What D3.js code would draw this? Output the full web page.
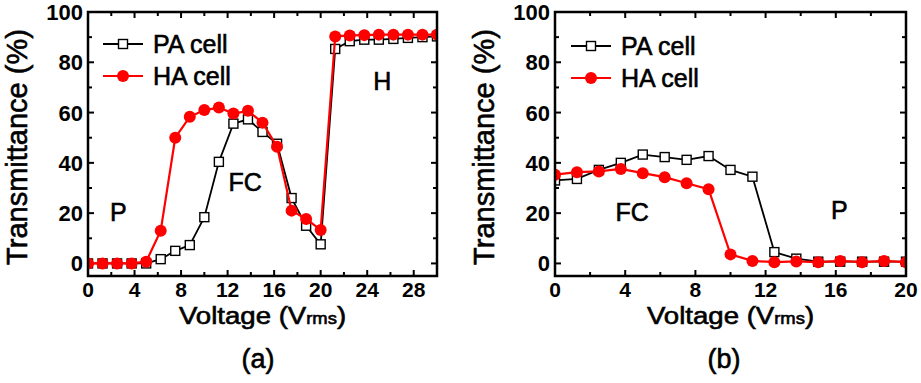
<!DOCTYPE html>
<html>
<head>
<meta charset="utf-8">
<script src="https://cdn.jsdelivr.net/npm/d3@7"></script>
<style>
  body { margin: 0; background: #fff; }
  text { font-family: "Liberation Sans", Arial, sans-serif; }
  .heavy { stroke: #000; stroke-width: 0.6px; }
</style>
</head>
<body>
<div id="chart"></div>
<script>
// voltage steps (Vrms)
const voltA = [0, 1.25, 2.5, 3.75, 5, 6.25, 7.5, 8.75, 10, 11.25, 12.5, 13.75, 15, 16.25, 17.5, 18.75, 20, 21.25, 22.5, 23.75, 25, 26.25, 27.5, 28.75, 30];
const paA = [0, 0, 0, 0, 0, 1.7, 5, 7.3, 18.4, 40.4, 55.6, 57.3, 52.3, 47.6, 26, 15, 7.6, 85.3, 88.4, 89, 89, 89.3, 89.7, 90, 90.3];
const haA = [0, 0, 0, 0, 0.7, 13, 50, 58.3, 61, 62, 59.6, 60.7, 56, 46.4, 21, 17.7, 13.3, 90.3, 90.7, 90.8, 91, 91, 91, 91, 91];

const voltB = [0, 1.25, 2.5, 3.75, 5, 6.25, 7.5, 8.75, 10, 11.25, 12.5, 13.75, 15, 16.25, 17.5, 18.75, 20];
const paB = [33, 33.6, 37.2, 40, 43.3, 42.3, 41.2, 42.7, 37.2, 34.5, 4.5, 1.9, 0.7, 0.7, 0.7, 0.7, 0.7];
const haB = [35.3, 36.3, 36.6, 37.6, 35.9, 34.3, 31.9, 29.5, 3.6, 1, 0.5, 0.8, 0.5, 1, 0.5, 1, 0.5];

const yTicks = [0, 20, 40, 60, 80, 100];
const xTicksA = [0, 4, 8, 12, 16, 20, 24, 28];
const xTicksB = [0, 4, 8, 12, 16, 20];

const W = 921, H = 383;
let svg = d3.select("#chart").append("svg")
    .attr("width", W)
    .attr("height", H);

function panel(opt) {
  let g = svg.append("g");
  let x = d3.scaleLinear().domain(opt.xdom).range([opt.left, opt.right]);
  let y = d3.scaleLinear().domain([-5, 100]).range([opt.bottom, opt.top]);

  let clipId = "clip" + opt.tag;
  svg.append("clipPath").attr("id", clipId)
    .append("rect")
    .attr("x", opt.left).attr("y", opt.top)
    .attr("width", opt.right - opt.left).attr("height", opt.bottom - opt.top);

  // ticks, all four sides, pointing in
  let minorX = d3.range(opt.xdom[0], opt.xdom[1] + 0.01, 2);
  let minorY = d3.range(0, 100.01, 10);
  minorX.forEach(v => {
    let len = (v % 4 === 0) ? 6 : 4;
    g.append("line").attr("x1", x(v)).attr("x2", x(v)).attr("y1", opt.bottom).attr("y2", opt.bottom - len).attr("stroke", "#000").attr("stroke-width", 2);
    g.append("line").attr("x1", x(v)).attr("x2", x(v)).attr("y1", opt.top).attr("y2", opt.top + len).attr("stroke", "#000").attr("stroke-width", 2);
  });
  minorY.forEach(v => {
    let len = (v % 20 === 0) ? 6 : 4;
    g.append("line").attr("x1", opt.left).attr("x2", opt.left + len).attr("y1", y(v)).attr("y2", y(v)).attr("stroke", "#000").attr("stroke-width", 2);
    g.append("line").attr("x1", opt.right).attr("x2", opt.right - len).attr("y1", y(v)).attr("y2", y(v)).attr("stroke", "#000").attr("stroke-width", 2);
  });

  // tick labels
  g.selectAll(".xl").data(opt.xticks).enter().append("text")
    .attr("x", d => x(d)).attr("y", opt.bottom + 21)
    .attr("text-anchor", "middle")
    .style("font-size", "21px").style("font-weight", "bold")
    .text(d => d);
  g.selectAll(".yl").data(yTicks).enter().append("text")
    .attr("x", opt.left - 5).attr("y", d => y(d) + 8)
    .attr("text-anchor", "end")
    .style("font-size", "22px").style("font-weight", "bold")
    .text(d => d);

  // data
  let plot = g.append("g").attr("clip-path", `url(#${clipId})`);
  let line = d3.line().x(d => x(d[0])).y(d => y(d[1]));
  let pa = opt.volt.map((v, i) => [v, opt.pa[i]]);
  let ha = opt.volt.map((v, i) => [v, opt.ha[i]]);

  plot.append("path").datum(pa).attr("d", line).attr("fill", "none").attr("stroke", "#000").attr("stroke-width", 1.8);
  plot.selectAll(".sq").data(pa).enter().append("rect")
    .attr("x", d => x(d[0]) - 4.5).attr("y", d => y(d[1]) - 4.5)
    .attr("width", 9).attr("height", 9)
    .attr("fill", "#fff").attr("stroke", "#000").attr("stroke-width", 1.4);
  plot.append("path").datum(ha).attr("d", line).attr("fill", "none").attr("stroke", "#ff0000").attr("stroke-width", 2.2);
  plot.selectAll(".ci").data(ha).enter().append("circle")
    .attr("cx", d => x(d[0])).attr("cy", d => y(d[1])).attr("r", 6)
    .attr("fill", "#ff0000");

  // frame
  g.append("rect").attr("x", opt.left).attr("y", opt.top)
    .attr("width", opt.right - opt.left).attr("height", opt.bottom - opt.top)
    .attr("fill", "none").attr("stroke", "#000").attr("stroke-width", 2.5);

  // legend
  let lg = opt.legend;
  g.append("line").attr("x1", lg.x).attr("x2", lg.x + 40).attr("y1", lg.y).attr("y2", lg.y).attr("stroke", "#000").attr("stroke-width", 1.8);
  g.append("rect").attr("x", lg.x + 15.5).attr("y", lg.y - 4.5).attr("width", 9).attr("height", 9).attr("fill", "#fff").attr("stroke", "#000").attr("stroke-width", 1.4);
  g.append("text").attr("class", "heavy").attr("x", lg.x + 50).attr("y", lg.y + 9).style("font-size", "25px").text("PA cell");
  g.append("line").attr("x1", lg.x).attr("x2", lg.x + 40).attr("y1", lg.y + 32).attr("y2", lg.y + 32).attr("stroke", "#ff0000").attr("stroke-width", 2.2);
  g.append("circle").attr("cx", lg.x + 20).attr("cy", lg.y + 32).attr("r", 6).attr("fill", "#ff0000");
  g.append("text").attr("class", "heavy").attr("x", lg.x + 50).attr("y", lg.y + 41).style("font-size", "25px").text("HA cell");

  // region labels
  opt.regions.forEach(r => {
    g.append("text").attr("class", "heavy").attr("x", x(r.v)).attr("y", y(r.t)).attr("text-anchor", "middle")
      .style("font-size", "25px").text(r.s);
  });

  // axis titles (stretched a bit wider, like the source)
  let mid = (opt.left + opt.right) / 2;
  let xt = g.append("text").attr("class", "heavy")
    .attr("transform", `translate(${mid}, ${opt.bottom + 48}) scale(1.15, 1)`)
    .attr("text-anchor", "middle").style("font-size", "24px");
  xt.append("tspan").text("Voltage (V");
  xt.append("tspan").style("font-size", "16px").text("rms");
  xt.append("tspan").text(")");

  g.append("text").attr("class", "heavy")
    .attr("transform", `translate(${opt.left - 61}, ${(opt.top + opt.bottom) / 2 + 3}) rotate(-90)`)
    .attr("text-anchor", "middle")
    .style("font-size", "29px")
    .text("Transmittance (%)");

  g.append("text").attr("class", "heavy").attr("x", opt.capX).attr("y", 368).attr("text-anchor", "middle")
    .style("font-size", "27px").text(opt.caption);
}

panel({
  tag: "a", left: 88, right: 437, top: 12, bottom: 276,
  xdom: [0, 30], xticks: xTicksA, volt: voltA, pa: paA, ha: haA,
  legend: {x: 103, y: 44},
  regions: [{v: 2.6, t: 17, s: "P"}, {v: 13.5, t: 29, s: "FC"}, {v: 25.3, t: 69, s: "H"}],
  capX: 258, caption: "(a)"
});

panel({
  tag: "b", left: 555, right: 906, top: 12, bottom: 276,
  xdom: [0, 20], xticks: xTicksB, volt: voltB, pa: paB, ha: haB,
  legend: {x: 571, y: 46},
  regions: [{v: 4.4, t: 17, s: "FC"}, {v: 16.2, t: 17.5, s: "P"}],
  capX: 724, caption: "(b)"
});
</script>
</body>
</html>
